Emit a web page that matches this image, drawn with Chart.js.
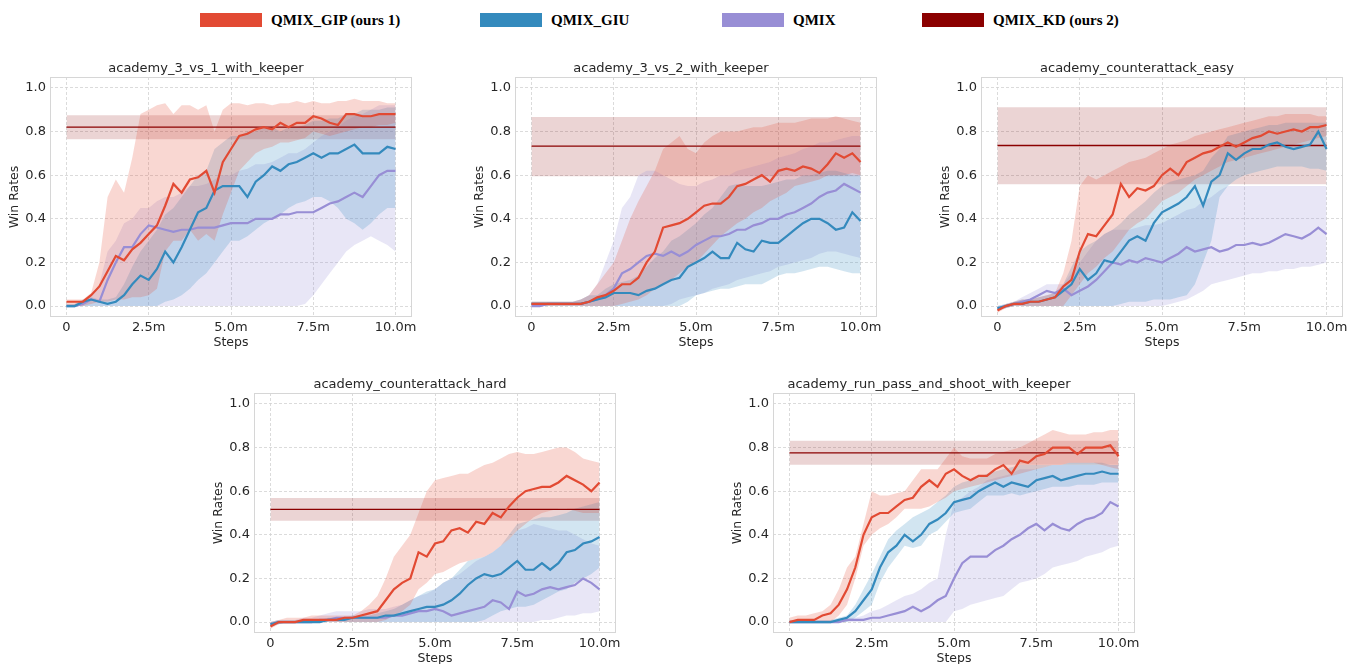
<!DOCTYPE html>
<html>
<head>
<meta charset="utf-8">
<script src="https://cdn.jsdelivr.net/npm/chart.js@4.4.0/dist/chart.umd.min.js"></script>
<style>
  body { margin: 0; width: 1351px; height: 664px; overflow: hidden; background: #fff; position: relative; }
  canvas { position: absolute; }
  .key { position: absolute; top: 12px; height: 16px; font: bold 15px "Liberation Serif", "Times New Roman", serif; color: #000; white-space: nowrap; }
  .key i { position: absolute; top: 1px; width: 62px; height: 14px; }
  .key span { position: absolute; left: 71px; top: -1px; line-height: 18px; }
</style>
</head>
<body>
<div id="legend"></div>
<canvas id="c0" width="432" height="294" style="left:0px;top:57px"></canvas>
<canvas id="c1" width="432" height="294" style="left:465px;top:57px"></canvas>
<canvas id="c2" width="432" height="294" style="left:931px;top:57px"></canvas>
<canvas id="c3" width="432" height="294" style="left:204px;top:373px"></canvas>
<canvas id="c4" width="432" height="294" style="left:723px;top:373px"></canvas>
<script>
var STEPS = [0,0.25,0.5,0.75,1,1.25,1.5,1.75,2,2.25,2.5,2.75,3,3.25,3.5,3.75,4,4.25,4.5,4.75,5,
  5.25,5.5,5.75,6,6.25,6.5,6.75,7,7.25,7.5,7.75,8,8.25,8.5,8.75,9,9.25,9.5,9.75,10];
var X_TICKS = [0, 2.5, 5, 7.5, 10];
var X_TICK_LABELS = ['0', '2.5m', '5.0m', '7.5m', '10.0m'];
var Y_TICKS = [0, 0.2, 0.4, 0.6, 0.8, 1.0];
var TITLES = ['academy_3_vs_1_with_keeper', 'academy_3_vs_2_with_keeper', 'academy_counterattack_easy',
  'academy_counterattack_hard', 'academy_run_pass_and_shoot_with_keeper'];
var METHODS = ['QMIX_GIP (ours 1)', 'QMIX_GIU', 'QMIX', 'QMIX_KD (ours 2)'];
var COLORS = ['#E24A33', '#348ABD', '#988ED5', '#8B0000'];
var BAND_COLORS = ['rgba(226,74,51,0.22)', 'rgba(52,138,189,0.22)', 'rgba(152,142,213,0.22)', 'rgba(139,0,0,0.17)'];
var LEGEND_X = [200, 480, 722, 922];

// win rates in percent, one value per entry of STEPS (mean, lower and upper edge of the band)
var gip3v1 = [2,2,2,5,9,16,23,21,26,29,33,37,46,56,52,58,59,62,52,66,72,78,79,81,82,81,84,82,84,84,87,86,84,83,88,88,87,87,88,88,88];
var gip3v1Lo = [0,0,0,1,2,2,3,3,4,4,5,8,25,30,30,35,30,33,30,42,52,62,66,70,72,73,75,75,76,77,80,79,78,79,80,81,82,82,83,83,84];
var gip3v1Hi = [3,3,3,6,20,50,58,52,68,88,90,92,93,88,92,92,90,92,80,90,93,93,92,93,93,92,93,93,94,93,94,93,93,94,94,95,94,94,94,93,93];
var giu3v1 = [0,0,2,3,2,1,2,5,10,14,12,17,25,20,27,35,43,45,53,55,55,55,50,57,60,64,62,65,66,68,70,68,70,70,72,74,70,70,70,73,72];
var giu3v1Lo = [0,0,0,0,0,0,0,0,0,0,0,0,2,3,5,8,12,15,20,25,30,30,32,35,38,40,42,45,47,48,50,50,48,45,40,38,35,38,42,45,45];
var giu3v1Hi = [1,1,3,4,3,3,4,10,18,25,30,35,42,45,50,55,60,62,72,75,78,78,80,80,82,82,80,82,82,83,85,85,86,86,88,88,90,90,90,91,91];
var qmix3v1 = [0,0,1,3,2,12,20,27,27,33,37,36,35,34,35,35,36,36,36,37,38,38,38,40,40,40,42,42,43,43,43,45,47,48,50,52,50,55,60,62,62];
var qmix3v1Lo = [0,0,0,0,0,0,0,0,0,0,0,0,0,0,0,0,0,0,0,0,0,0,0,0,0,0,0,0,0,1,5,10,15,20,25,28,30,32,30,28,25];
var qmix3v1Hi = [1,1,2,5,10,25,30,38,40,45,45,48,50,50,52,55,55,56,58,60,60,62,63,65,65,66,68,70,70,72,75,78,80,82,85,87,88,90,92,92,92];

var gip3v2 = [1,1,1,1,1,1,1,2,4,5,7,10,10,13,20,25,36,37,38,40,43,46,47,47,50,55,56,58,60,57,62,63,62,64,63,61,65,70,68,70,66];
var gip3v2Lo = [0,0,0,0,0,0,0,0,0,0,0,1,2,3,5,8,10,12,15,18,20,24,28,32,35,38,40,43,45,48,50,52,55,56,57,58,60,60,60,61,60];
var gip3v2Hi = [2,2,2,2,2,2,3,5,10,15,20,30,40,48,55,62,72,75,78,72,70,75,78,80,80,80,81,82,82,83,84,84,84,85,86,86,86,87,86,85,84];
var giu3v2 = [1,1,1,1,1,1,1,2,3,4,6,6,6,5,7,8,10,12,13,18,20,22,25,22,22,29,26,25,30,29,29,32,35,38,40,40,38,35,36,43,39];
var giu3v2Lo = [0,0,0,0,0,0,0,0,0,0,0,0,0,0,0,0,0,0,0,2,5,6,7,8,8,9,10,10,10,12,14,15,15,16,17,18,18,17,16,15,15];
var giu3v2Hi = [2,2,2,2,2,2,3,5,5,8,10,11,12,14,18,22,25,30,32,35,38,42,45,50,55,56,55,55,55,56,57,58,58,60,60,61,62,62,61,60,60];
var qmix3v2 = [0,0,1,1,1,1,1,2,3,5,8,15,17,20,23,24,23,25,23,25,28,30,32,32,33,35,35,37,38,40,40,42,43,45,47,50,52,53,56,54,52];
var qmix3v2Lo = [0,0,0,0,0,0,0,0,0,0,0,0,0,0,0,0,0,1,3,4,5,6,8,9,10,12,13,14,15,16,18,19,20,21,22,24,25,25,24,23,22];
var qmix3v2Hi = [2,2,2,2,2,2,3,5,10,20,30,45,50,60,62,62,60,58,56,55,55,57,58,60,60,62,63,64,65,66,68,69,70,72,73,75,75,76,77,78,78];

var gipEasy = [-2,0,1,1,2,2,3,4,9,12,25,33,32,37,42,56,50,54,53,55,60,63,60,66,68,70,71,73,75,73,75,77,78,80,79,80,81,80,82,82,83];
var gipEasyLo = [-3,-1,0,0,0,0,0,0,0,5,10,15,18,22,25,30,35,38,40,44,48,50,52,55,58,60,62,64,66,67,68,69,70,71,72,73,74,75,76,77,78];
var gipEasyHi = [-1,1,2,3,3,4,5,6,15,30,55,60,58,60,62,64,66,67,68,70,72,74,75,76,78,79,80,81,82,83,84,85,86,87,87,88,88,88,88,87,87];
var giuEasy = [-1,0,1,1,2,2,3,4,7,10,17,12,15,21,20,25,30,32,30,38,43,45,47,50,55,46,57,60,70,67,70,72,72,74,75,73,72,73,74,80,72];
var giuEasyLo = [-2,-1,0,0,0,0,0,0,0,0,0,0,0,0,0,1,2,2,2,3,3,3,4,5,10,20,30,50,55,58,60,61,62,63,64,64,64,64,63,63,62];
var giuEasyHi = [0,1,2,3,3,4,5,6,10,18,25,28,30,33,35,38,42,45,48,52,55,57,58,59,60,62,68,72,78,79,80,81,82,83,83,84,84,84,84,84,84];
var qmixEasy = [-1,0,1,2,3,5,7,6,8,5,7,9,12,16,20,19,21,20,22,21,20,22,24,27,25,26,27,25,26,28,28,29,28,29,31,33,32,31,33,36,33];
var qmixEasyLo = [-2,-1,0,0,0,0,0,0,0,0,0,0,0,0,0,0,0,0,0,0,0,1,2,3,5,7,10,11,12,13,14,15,15,16,16,17,17,18,18,19,20];
var qmixEasyHi = [0,1,2,4,6,8,10,10,10,15,20,25,30,33,35,35,35,36,37,37,38,40,42,44,45,48,50,53,55,55,55,55,55,55,55,55,55,55,55,55,55];

var gipHard = [-2,0,0,0,1,1,1,1,1,2,2,3,4,5,10,15,18,20,32,30,36,37,42,43,41,46,45,50,48,53,57,60,61,62,62,64,67,65,63,60,64];
var gipHardLo = [-3,-1,0,0,0,0,0,0,0,0,0,0,0,0,1,3,5,8,15,18,22,23,25,27,28,29,30,32,35,38,42,45,48,50,51,52,52,51,50,50,50];
var gipHardHi = [0,1,2,2,2,3,3,3,3,3,3,5,8,12,20,30,35,40,50,60,65,66,67,68,68,70,72,73,75,77,78,77,77,78,79,80,80,78,75,74,73];
var giuHard = [-1,0,0,0,0,0,0,1,1,1,2,2,2,2,3,3,4,5,6,7,7,8,10,13,17,20,22,21,22,25,28,24,24,27,24,27,32,33,36,37,39];
var giuHardLo = [-2,-1,0,0,0,0,0,0,0,0,0,0,0,0,0,0,0,0,0,0,0,0,0,0,0,0,1,3,5,6,7,7,8,10,12,14,15,18,20,22,25];
var giuHardHi = [0,1,1,1,1,1,1,2,2,2,3,3,3,4,5,6,8,10,12,14,15,18,20,24,28,29,30,32,35,40,45,46,47,48,48,49,50,52,53,54,55];
var qmixHard = [-1,0,0,0,0,0,1,1,2,2,2,2,2,2,2,3,3,4,5,5,6,5,3,4,5,6,7,10,9,6,14,12,13,15,16,15,16,17,20,18,15];
var qmixHardLo = [-2,-1,0,0,0,0,0,0,0,0,0,0,0,0,0,0,0,0,0,0,0,0,0,0,0,0,0,0,0,0,0,0,0,1,1,2,3,3,4,4,5];
var qmixHardHi = [0,1,1,1,2,2,3,4,5,5,5,5,6,6,6,7,8,10,12,13,15,18,20,22,25,28,30,32,35,38,42,43,45,44,43,42,42,40,38,36,35];

var gipRps = [0,1,1,1,3,4,8,15,25,40,48,50,50,53,56,57,62,65,62,68,70,67,65,67,67,70,72,68,74,73,76,77,80,80,80,77,80,80,80,81,76];
var gipRpsLo = [0,0,0,0,0,0,3,8,20,35,40,43,45,48,52,52,52,53,55,57,60,61,62,63,64,65,66,67,68,69,70,71,72,72,73,73,73,73,72,71,70];
var gipRpsHi = [2,3,3,4,5,8,15,25,30,45,60,58,58,59,60,65,70,70,70,75,80,76,75,75,75,77,78,79,80,82,84,86,88,87,86,86,86,87,87,88,88];
var giuRps = [0,0,0,0,0,0,1,2,5,10,15,25,32,35,40,37,40,45,47,50,55,56,57,60,62,64,62,64,63,62,65,66,67,65,66,67,68,68,69,68,68];
var giuRpsLo = [0,0,0,0,0,0,0,0,2,5,8,18,25,30,35,34,35,40,42,46,50,51,52,55,58,58,58,59,58,59,60,61,62,62,62,63,63,63,64,64,64];
var giuRpsHi = [1,1,1,1,1,1,2,3,8,15,22,30,38,42,45,48,50,52,55,58,62,64,65,66,68,69,70,71,72,72,72,72,72,72,73,73,73,73,73,72,72];
var qmixRps = [0,0,0,0,0,0,0,1,1,1,2,2,3,4,5,7,5,7,10,12,20,27,30,30,30,33,35,38,40,43,45,42,45,43,42,45,47,48,50,55,53];
var qmixRpsLo = [0,0,0,0,0,0,0,0,0,0,0,0,0,0,0,0,0,0,0,0,5,6,8,9,10,11,12,15,18,19,20,22,25,26,27,28,30,31,32,34,35];
var qmixRpsHi = [1,1,1,1,1,1,1,2,2,3,5,6,8,10,12,13,15,18,20,40,55,57,60,62,65,66,67,68,70,70,70,71,72,72,72,72,72,72,72,72,72];

// QMIX_KD: one flat level per task, in percent
var kdMean = [82, 73.3, 73.6, 51.7, 77.6];
var kdLo = [76.5, 59.5, 55.8, 46.5, 72.1];
var kdHi = [87.5, 86.7, 91.1, 56.9, 83.1];

var panels = [
  [[gip3v1, gip3v1Lo, gip3v1Hi], [giu3v1, giu3v1Lo, giu3v1Hi], [qmix3v1, qmix3v1Lo, qmix3v1Hi]],
  [[gip3v2, gip3v2Lo, gip3v2Hi], [giu3v2, giu3v2Lo, giu3v2Hi], [qmix3v2, qmix3v2Lo, qmix3v2Hi]],
  [[gipEasy, gipEasyLo, gipEasyHi], [giuEasy, giuEasyLo, giuEasyHi], [qmixEasy, qmixEasyLo, qmixEasyHi]],
  [[gipHard, gipHardLo, gipHardHi], [giuHard, giuHardLo, giuHardHi], [qmixHard, qmixHardLo, qmixHardHi]],
  [[gipRps, gipRpsLo, gipRpsHi], [giuRps, giuRpsLo, giuRpsHi], [qmixRps, qmixRpsLo, qmixRpsHi]]
];

var legend = document.getElementById('legend');
for (var k = 0; k < METHODS.length; k++) {
  var item = document.createElement('div');
  item.className = 'key';
  item.style.left = LEGEND_X[k] + 'px';
  item.innerHTML = '<i style="background:' + COLORS[k] + '"></i><span>' + METHODS[k] + '</span>';
  legend.appendChild(item);
}

function pts(arr) {
  return arr.map(function (v, i) { return {x: STEPS[i], y: v / 100}; });
}
function flat(v) {
  return [{x: STEPS[0], y: v / 100}, {x: STEPS[STEPS.length - 1], y: v / 100}];
}

var framePlugin = {
  id: 'frame',
  beforeDatasetsDraw: function (chart) {
    var a = chart.chartArea, ctx = chart.ctx;
    ctx.save();
    ctx.strokeStyle = '#d6d6d6';
    ctx.lineWidth = 1;
    ctx.strokeRect(a.left + 0.5, a.top + 0.5, a.right - a.left - 1, a.bottom - a.top - 1);
    ctx.restore();
  }
};

function band(lo, hi, color, order) {
  return [
    {data: lo, borderWidth: 0, pointRadius: 0, fill: false, order: order},
    {data: hi, borderWidth: 0, pointRadius: 0, fill: '-1', backgroundColor: color, order: order}
  ];
}
function line(data, color, width, order) {
  return {data: data, borderColor: color, borderWidth: width, pointRadius: 0, fill: false, order: order};
}

function drawPanel(p) {
  var s = panels[p];
  var sets = [];
  sets = sets.concat(band(flat(kdLo[p]), flat(kdHi[p]), BAND_COLORS[3], 20));
  sets = sets.concat(band(pts(s[2][1]), pts(s[2][2]), BAND_COLORS[2], 19));
  sets = sets.concat(band(pts(s[1][1]), pts(s[1][2]), BAND_COLORS[1], 18));
  sets = sets.concat(band(pts(s[0][1]), pts(s[0][2]), BAND_COLORS[0], 17));
  sets.push(line(flat(kdMean[p]), COLORS[3], 1.3, 4));
  sets.push(line(pts(s[2][0]), COLORS[2], 2.2, 3));
  sets.push(line(pts(s[1][0]), COLORS[1], 2.2, 2));
  sets.push(line(pts(s[0][0]), COLORS[0], 2.2, 1));

  var grid = {color: '#d2d2d2', drawTicks: false, lineWidth: 0.8};
  new Chart(document.getElementById('c' + p), {
    type: 'line',
    data: {datasets: sets},
    plugins: [framePlugin],
    options: {
      responsive: false,
      animation: false,
      layout: {padding: {left: 0, right: 20, top: 0, bottom: 0}},
      elements: {line: {tension: 0}},
      plugins: {
        legend: {display: false},
        tooltip: {enabled: false},
        title: {
          display: true, text: TITLES[p], color: '#262626',
          font: {family: 'DejaVu Sans', size: 13, weight: 'normal', lineHeight: 1},
          padding: {top: 5, bottom: 2}
        }
      },
      scales: {
        x: {
          type: 'linear', min: -0.5, max: 10.5,
          afterBuildTicks: function (sc) { sc.ticks = X_TICKS.map(function (v) { return {value: v}; }); },
          afterFit: function (sc) { sc.height = 34; },
          ticks: {
            color: '#262626', padding: 3, maxRotation: 0,
            font: {family: 'DejaVu Sans', size: 13},
            callback: function (v, i) { return X_TICK_LABELS[i]; }
          },
          grid: Object.assign({borderDash: [3, 2]}, grid),
          border: {display: false, dash: [3, 2]},
          title: {display: true, text: 'Steps', color: '#262626', padding: {top: 0, bottom: 1},
            font: {family: 'DejaVu Sans', size: 12.5}}
        },
        y: {
          type: 'linear', min: -0.05, max: 1.05,
          afterBuildTicks: function (sc) { sc.ticks = Y_TICKS.map(function (v) { return {value: v}; }); },
          afterFit: function (sc) { sc.width = 50; },
          ticks: {
            color: '#262626', padding: 4,
            font: {family: 'DejaVu Sans', size: 13},
            callback: function (v) { return v.toFixed(1); }
          },
          grid: grid,
          border: {display: false, dash: [3, 2]},
          title: {display: true, text: 'Win Rates', color: '#262626', padding: {top: 7, bottom: 0},
            font: {family: 'DejaVu Sans', size: 12.5}}
        }
      }
    }
  });
}

for (var p = 0; p < panels.length; p++) {
  drawPanel(p);
}
</script>
</body>
</html>
